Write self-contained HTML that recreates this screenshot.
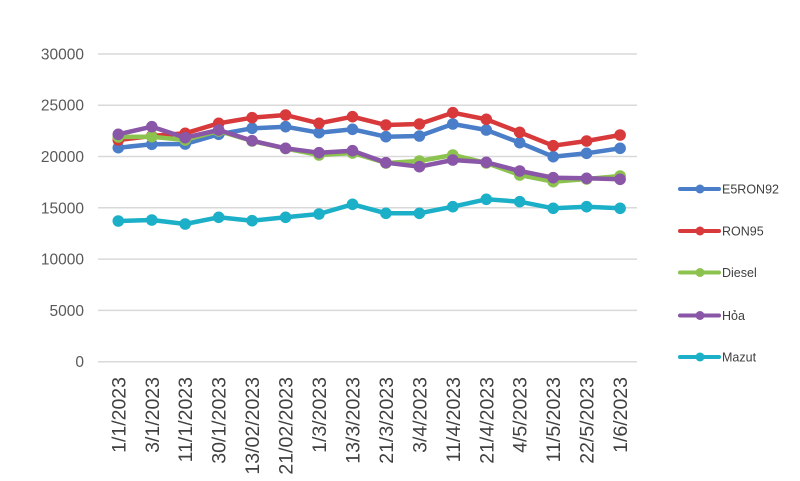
<!DOCTYPE html>
<html><head><meta charset="utf-8"><style>
html,body{margin:0;padding:0;background:#fff;}
svg{display:block;}
</style></head><body>
<svg width="800" height="481" viewBox="0 0 800 481" xmlns="http://www.w3.org/2000/svg">
<rect width="800" height="481" fill="#fff"/>
<g stroke="#d9d9d9" stroke-width="1.5">
<line x1="98" y1="54" x2="637" y2="54"/>
<line x1="98" y1="105.2" x2="637" y2="105.2"/>
<line x1="98" y1="156.5" x2="637" y2="156.5"/>
<line x1="98" y1="207.8" x2="637" y2="207.8"/>
<line x1="98" y1="259.1" x2="637" y2="259.1"/>
<line x1="98" y1="310.4" x2="637" y2="310.4"/>
<line x1="98" y1="361.7" x2="637" y2="361.7"/>
</g>
<g font-family="Liberation Sans, sans-serif" font-size="15.5" fill="#595959" text-anchor="end">
<text x="84" y="59.5">30000</text>
<text x="84" y="110.7">25000</text>
<text x="84" y="162">20000</text>
<text x="84" y="213.3">15000</text>
<text x="84" y="264.6">10000</text>
<text x="84" y="315.9">5000</text>
<text x="84" y="367.2">0</text>
</g>
<g font-family="Liberation Sans, sans-serif" font-size="19.5" fill="#404040" text-anchor="end">
<text transform="translate(125.3,377) rotate(-90)">1/1/2023</text>
<text transform="translate(158.8,377) rotate(-90)">3/1/2023</text>
<text transform="translate(192.2,377) rotate(-90)">11/1/2023</text>
<text transform="translate(225.7,377) rotate(-90)">30/1/2023</text>
<text transform="translate(259.1,377) rotate(-90)">13/02/2023</text>
<text transform="translate(292.6,377) rotate(-90)">21/02/2023</text>
<text transform="translate(326,377) rotate(-90)">1/3/2023</text>
<text transform="translate(359.5,377) rotate(-90)">13/3/2023</text>
<text transform="translate(392.9,377) rotate(-90)">21/3/2023</text>
<text transform="translate(426.4,377) rotate(-90)">3/4/2023</text>
<text transform="translate(459.8,377) rotate(-90)">11/4/2023</text>
<text transform="translate(493.3,377) rotate(-90)">21/4/2023</text>
<text transform="translate(526.7,377) rotate(-90)">4/5/2023</text>
<text transform="translate(560.2,377) rotate(-90)">11/5/2023</text>
<text transform="translate(593.6,377) rotate(-90)">22/5/2023</text>
<text transform="translate(627.1,377) rotate(-90)">1/6/2023</text>
</g>

<!-- E5RON92 -->
<g stroke="#4a7ec8" fill="#4a7ec8">
<polyline fill="none" stroke-width="4.5" stroke-linejoin="round" points="118.3,147.7 151.8,144.3 185.2,144 218.7,134.3 252.1,128.3 285.6,126.7 319,132.7 352.5,129.3 385.9,136.7 419.4,136 452.8,124 486.3,130 519.7,142.7 553.2,156.7 586.6,153.3 620.1,148.3"/>
<g stroke="none">
<circle cx="118.3" cy="147.7" r="5.8"/><circle cx="151.8" cy="144.3" r="5.8"/><circle cx="185.2" cy="144" r="5.8"/><circle cx="218.7" cy="134.3" r="5.8"/><circle cx="252.1" cy="128.3" r="5.8"/><circle cx="285.6" cy="126.7" r="5.8"/><circle cx="319" cy="132.7" r="5.8"/><circle cx="352.5" cy="129.3" r="5.8"/><circle cx="385.9" cy="136.7" r="5.8"/><circle cx="419.4" cy="136" r="5.8"/><circle cx="452.8" cy="124" r="5.8"/><circle cx="486.3" cy="130" r="5.8"/><circle cx="519.7" cy="142.7" r="5.8"/><circle cx="553.2" cy="156.7" r="5.8"/><circle cx="586.6" cy="153.3" r="5.8"/><circle cx="620.1" cy="148.3" r="5.8"/>
</g></g>

<!-- RON95 -->
<g stroke="#d8393b" fill="#d8393b">
<polyline fill="none" stroke-width="4.5" stroke-linejoin="round" points="118.3,140 151.8,136 185.2,133.3 218.7,123.3 252.1,117.7 285.6,115 319,123.3 352.5,116.7 385.9,125 419.4,124 452.8,112.7 486.3,119.3 519.7,132.3 553.2,145.7 586.6,141 620.1,135"/>
<g stroke="none">
<circle cx="118.3" cy="140" r="5.8"/><circle cx="151.8" cy="136" r="5.8"/><circle cx="185.2" cy="133.3" r="5.8"/><circle cx="218.7" cy="123.3" r="5.8"/><circle cx="252.1" cy="117.7" r="5.8"/><circle cx="285.6" cy="115" r="5.8"/><circle cx="319" cy="123.3" r="5.8"/><circle cx="352.5" cy="116.7" r="5.8"/><circle cx="385.9" cy="125" r="5.8"/><circle cx="419.4" cy="124" r="5.8"/><circle cx="452.8" cy="112.7" r="5.8"/><circle cx="486.3" cy="119.3" r="5.8"/><circle cx="519.7" cy="132.3" r="5.8"/><circle cx="553.2" cy="145.7" r="5.8"/><circle cx="586.6" cy="141" r="5.8"/><circle cx="620.1" cy="135" r="5.8"/>
</g></g>

<!-- Diesel -->
<g stroke="#8cc24e" fill="#8cc24e">
<polyline fill="none" stroke-width="4.5" stroke-linejoin="round" points="118.3,137 151.8,136.7 185.2,140 218.7,131 252.1,141 285.6,148.5 319,155 352.5,153 385.9,163 419.4,161 452.8,155 486.3,163 519.7,175 553.2,181.7 586.6,179 620.1,176"/>
<g stroke="none">
<circle cx="118.3" cy="137" r="5.8"/><circle cx="151.8" cy="136.7" r="5.8"/><circle cx="185.2" cy="140" r="5.8"/><circle cx="218.7" cy="131" r="5.8"/><circle cx="252.1" cy="141" r="5.8"/><circle cx="285.6" cy="148.5" r="5.8"/><circle cx="319" cy="155" r="5.8"/><circle cx="352.5" cy="153" r="5.8"/><circle cx="385.9" cy="163" r="5.8"/><circle cx="419.4" cy="161" r="5.8"/><circle cx="452.8" cy="155" r="5.8"/><circle cx="486.3" cy="163" r="5.8"/><circle cx="519.7" cy="175" r="5.8"/><circle cx="553.2" cy="181.7" r="5.8"/><circle cx="586.6" cy="179" r="5.8"/><circle cx="620.1" cy="176" r="5.8"/>
</g></g>

<!-- Hoa -->
<g stroke="#8a56a7" fill="#8a56a7">
<polyline fill="none" stroke-width="4.5" stroke-linejoin="round" points="118.3,134.3 151.8,126.7 185.2,137.7 218.7,130 252.1,140.7 285.6,148.3 319,152.7 352.5,150.7 385.9,162.7 419.4,166.7 452.8,160 486.3,162.3 519.7,171 553.2,177.7 586.6,178.3 620.1,179.3"/>
<g stroke="none">
<circle cx="118.3" cy="134.3" r="5.8"/><circle cx="151.8" cy="126.7" r="5.8"/><circle cx="185.2" cy="137.7" r="5.8"/><circle cx="218.7" cy="130" r="5.8"/><circle cx="252.1" cy="140.7" r="5.8"/><circle cx="285.6" cy="148.3" r="5.8"/><circle cx="319" cy="152.7" r="5.8"/><circle cx="352.5" cy="150.7" r="5.8"/><circle cx="385.9" cy="162.7" r="5.8"/><circle cx="419.4" cy="166.7" r="5.8"/><circle cx="452.8" cy="160" r="5.8"/><circle cx="486.3" cy="162.3" r="5.8"/><circle cx="519.7" cy="171" r="5.8"/><circle cx="553.2" cy="177.7" r="5.8"/><circle cx="586.6" cy="178.3" r="5.8"/><circle cx="620.1" cy="179.3" r="5.8"/>
</g></g>

<!-- Mazut -->
<g stroke="#1bafc8" fill="#1bafc8">
<polyline fill="none" stroke-width="4.5" stroke-linejoin="round" points="118.3,221 151.8,220 185.2,224 218.7,217.3 252.1,220.7 285.6,217.3 319,214 352.5,204.3 385.9,213.3 419.4,213.3 452.8,206.7 486.3,199.3 519.7,201.7 553.2,208.3 586.6,206.7 620.1,208.3"/>
<g stroke="none">
<circle cx="118.3" cy="221" r="5.8"/><circle cx="151.8" cy="220" r="5.8"/><circle cx="185.2" cy="224" r="5.8"/><circle cx="218.7" cy="217.3" r="5.8"/><circle cx="252.1" cy="220.7" r="5.8"/><circle cx="285.6" cy="217.3" r="5.8"/><circle cx="319" cy="214" r="5.8"/><circle cx="352.5" cy="204.3" r="5.8"/><circle cx="385.9" cy="213.3" r="5.8"/><circle cx="419.4" cy="213.3" r="5.8"/><circle cx="452.8" cy="206.7" r="5.8"/><circle cx="486.3" cy="199.3" r="5.8"/><circle cx="519.7" cy="201.7" r="5.8"/><circle cx="553.2" cy="208.3" r="5.8"/><circle cx="586.6" cy="206.7" r="5.8"/><circle cx="620.1" cy="208.3" r="5.8"/>
</g></g>

<!-- Legend -->
<g stroke-width="4" stroke-linecap="round">
<line x1="680" y1="189" x2="719" y2="189" stroke="#4a7ec8"/><circle cx="700" cy="189" r="4.5" fill="#4a7ec8"/>
<line x1="680" y1="231" x2="719" y2="231" stroke="#d8393b"/><circle cx="700" cy="231" r="4.5" fill="#d8393b"/>
<line x1="680" y1="272.5" x2="719" y2="272.5" stroke="#8cc24e"/><circle cx="700" cy="272.5" r="4.5" fill="#8cc24e"/>
<line x1="680" y1="315.5" x2="719" y2="315.5" stroke="#8a56a7"/><circle cx="700" cy="315.5" r="4.5" fill="#8a56a7"/>
<line x1="680" y1="357" x2="719" y2="357" stroke="#1bafc8"/><circle cx="700" cy="357" r="4.5" fill="#1bafc8"/>
</g>
<g font-family="Liberation Sans, sans-serif" font-size="12.5" fill="#404040">
<text x="722" y="193.5">E5RON92</text>
<text x="722" y="235.5">RON95</text>
<text x="722" y="277">Diesel</text>
<text x="722" y="320">Hỏa</text>
<text x="722" y="361.5">Mazut</text>
</g>
</svg>
</body></html>
